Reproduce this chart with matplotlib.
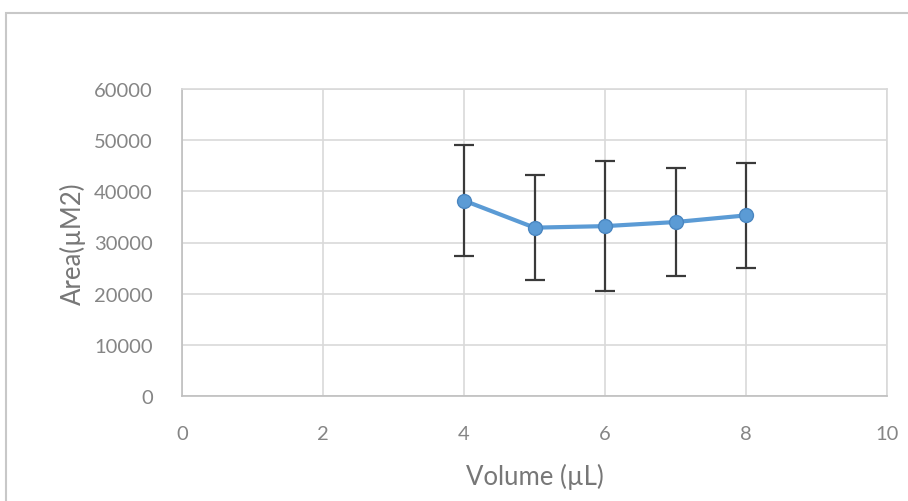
import matplotlib
matplotlib.use("Agg")
import matplotlib.pyplot as plt
from matplotlib.patches import Rectangle

# Measured area versus injected volume
volume = [4, 5, 6, 7, 8]
area = [38200, 32900, 33200, 34000, 35300]
area_err = [10900, 10250, 12700, 10500, 10300]

x_ticks = [0, 2, 4, 6, 8, 10]
y_ticks = [0, 10000, 20000, 30000, 40000, 50000, 60000]

plt.rcParams["font.family"] = ["Lato", "DejaVu Sans"]

fig = plt.figure(figsize=(9.08, 5.02), dpi=100)
fig.patch.set_facecolor("white")

# chart frame (runs off the right and bottom edges)
fig.patches.append(Rectangle((6 / 908, -0.05), 1.0, 1 - 14 / 502 + 0.05,
                             transform=fig.transFigure, fill=False,
                             edgecolor="#c8c8c8", linewidth=1.5))

ax = fig.add_axes([182 / 908, 1 - 397 / 502, (887 - 182) / 908, (397 - 90) / 502])

grid_col = "#d9d9d9"
ax.set_xlim(0, 10)
ax.set_ylim(0, 60000)
ax.set_xticks(x_ticks)
ax.set_yticks(y_ticks)
ax.grid(True, color=grid_col, linewidth=1.2)
ax.set_axisbelow(True)
for side in ["top", "right", "bottom", "left"]:
    ax.spines[side].set_color(grid_col)
    ax.spines[side].set_linewidth(1.2)
ax.spines["left"].set_color("#bfbfbf")
ax.spines["bottom"].set_color("#bfbfbf")

ax.tick_params(axis="both", length=0, labelsize=14.5, labelcolor="#858585")
ax.tick_params(axis="x", pad=21)
ax.tick_params(axis="y", pad=21)

ax.errorbar(volume, area, yerr=area_err, color="#5b9bd5", linewidth=3,
            marker="o", markersize=10, markerfacecolor="#5b9bd5",
            markeredgecolor="#4a86c0", ecolor="#3a3a3a", elinewidth=1.6,
            capsize=7, capthick=1.6, zorder=3)

ax.set_xlabel("Volume (µL)", fontsize=18.5, color="#777777")
ax.set_ylabel("Area(µM2)", fontsize=18.5, color="#777777")
ax.xaxis.set_label_coords(0.5, -(477 - 397) / 307, transform=ax.transAxes)
ax.xaxis.label.set_va("center")
ax.yaxis.set_label_coords(-(182 - 73) / 705, 0.5, transform=ax.transAxes)
ax.yaxis.label.set_va("center")

fig.savefig("out.png", dpi=100, facecolor="white")
